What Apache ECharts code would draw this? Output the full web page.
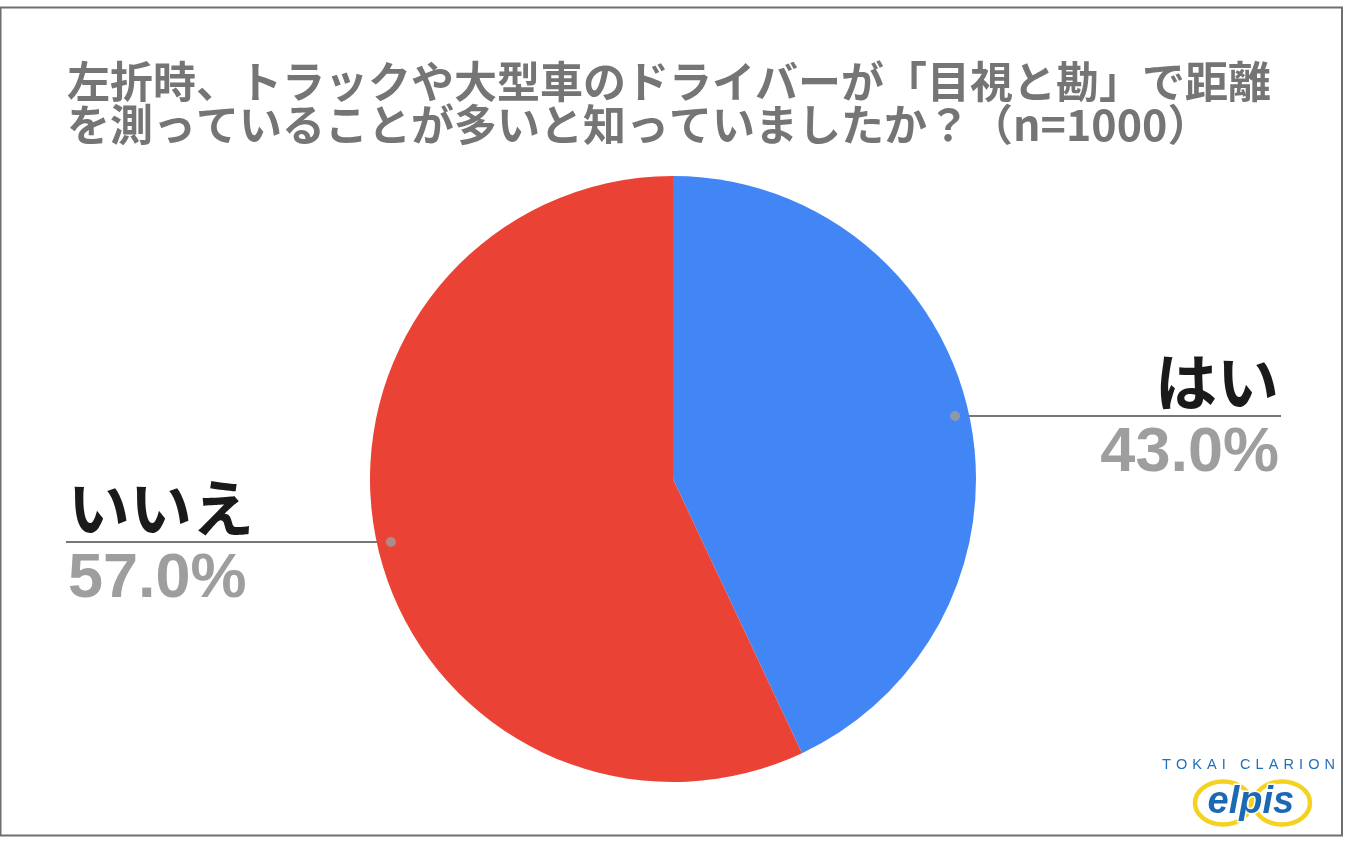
<!DOCTYPE html>
<html><head><meta charset="utf-8">
<script src="https://cdn.jsdelivr.net/npm/echarts@6/dist/echarts.min.js"></script>
<style>html,body{margin:0;padding:0;background:#fff}#c{width:1350px;height:844px}</style>
</head><body><div id="c"></div>
<script>
// ---- data ----
const titleLines = ['左折時、トラックや大型車のドライバーが「目視と勘」で距離', 'を測っていることが多いと知っていましたか？（n=1000）'];
const categories = ['はい', 'いいえ'];
const values = [43.0, 57.0];
const colors = ['#4285F4', '#EA4335'];
const brandLine = 'TOKAI CLARION';
const brandMark = 'elpis';

// ---- layout constants ----
const CX = 673, CY = 479, R = 303, DOT_R = 289;
const RIGHT_END = 1281, LEFT_END = 66;

const total = values.reduce((a, b) => a + b, 0);
const midFrac = values.map((v, i) => (values.slice(0, i).reduce((a, b) => a + b, 0) + v / 2) / total);
const pct = values.map(v => (v / total * 100).toFixed(1) + '%');
const isRight = i => midFrac[i] < 0.5;

const chart = echarts.init(document.getElementById('c'), null, {renderer: 'canvas'});

// letter-spaced brand text
const mctx = document.createElement('canvas').getContext('2d');
const brandFont = '14.5px "Liberation Sans"';
mctx.font = brandFont;
const brandStart = 1162, brandEnd = 1335;
const chars = brandLine.split('');
const widths = chars.map(c => mctx.measureText(c).width);
const natural = widths.reduce((a, b) => a + b, 0);
const gap = (brandEnd - brandStart - natural) / (chars.length - 1);
const brandEls = [];
let bx = brandStart;
chars.forEach((c, i) => {
  brandEls.push({type: 'text', left: bx, top: 757, z: 20,
    style: {text: c, font: brandFont, fill: '#2170b8'}});
  bx += widths[i] + gap;
});

const nameStyle = {fontFamily: 'Noto Sans CJK JP', fontWeight: 'bold', fontSize: 62, color: '#1a1a1a', lineHeight: 76};
const valStyle = {fontFamily: 'Liberation Sans', fontWeight: 'bold', fontSize: 63, color: '#9e9e9e', lineHeight: 68};

chart.setOption({
  animation: false,
  backgroundColor: '#ffffff',
  title: {
    text: titleLines.join('\n'), left: 67, top: 60, padding: 0,
    textStyle: {fontFamily: 'Noto Sans CJK JP', fontWeight: 'bold', fontSize: 43, lineHeight: 43, color: '#757575'}
  },
  polar: {center: [CX, CY], radius: R},
  angleAxis: {type: 'value', min: 0, max: 1, startAngle: 90, clockwise: true, show: false,
    axisLine: {show: false}, axisTick: {show: false}, axisLabel: {show: false}, splitLine: {show: false}},
  radiusAxis: {type: 'value', min: 0, max: R, show: false,
    axisLine: {show: false}, axisTick: {show: false}, axisLabel: {show: false}, splitLine: {show: false}},
  graphic: [
    {type: 'rect', shape: {x: 0.5, y: 7.5, width: 1341.5, height: 828}, z: 0,
      style: {fill: 'none', stroke: '#6f6f6f', lineWidth: 2}},
    {type: 'ellipse', shape: {cx: 1223, cy: 803, rx: 28, ry: 21.5}, z: 18,
      style: {fill: 'none', stroke: '#F4D21F', lineWidth: 4.5}},
    {type: 'ellipse', shape: {cx: 1282, cy: 803, rx: 28, ry: 21.5}, z: 18,
      style: {fill: 'none', stroke: '#F4D21F', lineWidth: 4.5}},
    {type: 'text', left: 1206, top: 782, z: 21,
      style: {text: brandMark, font: 'italic bold 38px "Liberation Sans"', fill: '#1b68b3',
        stroke: '#ffffff', lineWidth: 3}},
    ...brandEls
  ],
  series: [
    {
      type: 'pie',
      center: [CX, CY],
      radius: R,
      startAngle: 90,
      clockwise: true,
      avoidLabelOverlap: false,
      itemStyle: {borderWidth: 0},
      emphasis: {disabled: true},
      data: categories.map((name, i) => ({name, value: values[i], itemStyle: {color: colors[i]}})),
      label: {
        show: true,
        position: 'outside',
        overflow: 'none',
        formatter: p => {
          const s = isRight(p.dataIndex) ? 'R' : 'L';
          return '{n' + s + '|' + p.name + '}\n{v' + s + '|' + pct[p.dataIndex] + '}';
        },
        rich: {
          nR: Object.assign({align: 'right'}, nameStyle),
          vR: Object.assign({align: 'right'}, valStyle),
          nL: Object.assign({align: 'left'}, nameStyle),
          vL: Object.assign({align: 'left'}, valStyle)
        }
      },
      labelLine: {show: true, length: 15, length2: 15, smooth: false,
        lineStyle: {color: '#767676', width: 2}},
      labelLayout: function (p) {
        const i = p.dataIndex;
        const th = midFrac[i] * 2 * Math.PI;
        const x = CX + DOT_R * Math.sin(th), y = CY - DOT_R * Math.cos(th);
        const right = isRight(i);
        return {
          x: right ? RIGHT_END - 2 : LEFT_END + 2,
          y: y,
          align: right ? 'right' : 'left',
          verticalAlign: 'middle',
          labelLinePoints: [[x, y], [x, y], [right ? RIGHT_END : LEFT_END, y]]
        };
      }
    },
    {
      type: 'scatter',
      coordinateSystem: 'polar',
      symbol: 'circle',
      symbolSize: 10,
      z: 10,
      silent: true,
      itemStyle: {color: '#9e9e9e'},
      data: midFrac.map(f => [DOT_R, f])
    }
  ]
});
</script>
</body></html>
